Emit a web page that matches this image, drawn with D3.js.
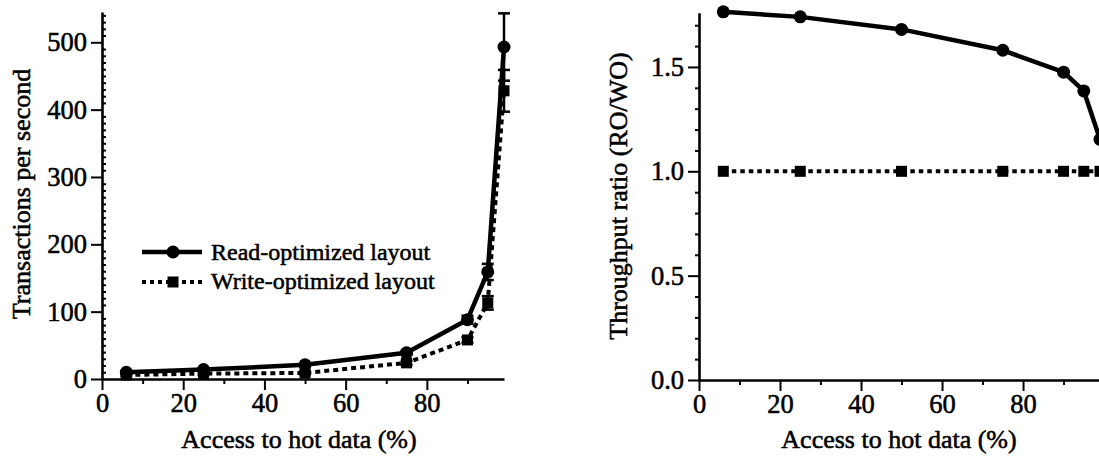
<!DOCTYPE html>
<html>
<head>
<meta charset="utf-8">
<script src="https://cdn.jsdelivr.net/npm/d3@7"></script>
<style>
  html, body { margin: 0; padding: 0; background: #fff; }
  svg { display: block; }
  text { font-family: "Liberation Serif", "Times New Roman", serif; fill: #000; stroke: #000; stroke-width: 0.55px; }
</style>
</head>
<body>
<svg id="chart" width="1099" height="458"></svg>
<script>
// ---- Data ----
const hotAccess = [6, 25, 50, 75, 90, 95, 99];
const readOptTps = [10, 14, 21, 39, 88, 159, 493];
const readOptErr = [2, 2, 2, 3, 6, 12, 50];
const writeOptTps = [6, 8, 9, 24, 58, 113, 428];
const writeOptErr = [2, 2, 2, 3, 4, 10, 31];
const ratioRO = [1.764, 1.74, 1.68, 1.58, 1.475, 1.385, 1.153];
const ratioWO = [1, 1, 1, 1, 1, 1, 1];

const xTicks = [0, 20, 40, 60, 80];
const xMinorTicks = [10, 30, 50, 70, 90];
const leftYTicks = [0, 100, 200, 300, 400, 500];
const rightYTicks = [0, 0.5, 1.0, 1.5];
const legendLabels = ["Read-optimized layout", "Write-optimized layout"];
const xTitle = "Access to hot data (%)";
const leftYTitle = "Transactions per second";
const rightYTitle = "Throughput ratio (RO/WO)";

const svg = d3.select("#chart");

function styleAxis(g, width) {
  g.attr("font-family", null);
  g.select(".domain").attr("stroke", "#000").attr("stroke-width", width);
  g.selectAll(".tick line").attr("stroke", "#000").attr("stroke-width", 2);
  g.selectAll(".tick text").attr("font-size", 26.5)
    .style("font-family", '"Liberation Serif", "Times New Roman", serif');
}

function drawPanel(opts) {
  const { x, y, yTicks, yMinor, yFmt, minorInside, ro, wo, roErr, woErr, woDash } = opts;
  const g = svg.append("g");

  // X axis
  const xAxis = g.append("g").attr("transform", `translate(0,${y(0)})`)
    .call(d3.axisBottom(x).tickValues(xTicks).tickSize(11).tickSizeOuter(0).tickPadding(3));
  styleAxis(xAxis, 2.6);
  xAxis.append("g").call(d3.axisBottom(x).tickValues(xMinorTicks).tickSize(5).tickFormat(""))
    .call(s => { s.select(".domain").remove(); s.selectAll("line").attr("stroke", "#000").attr("stroke-width", 2); });

  // Y axis
  const yAxis = g.append("g").attr("transform", `translate(${x(0)},0)`)
    .call(d3.axisLeft(y).tickValues(yTicks).tickSize(11).tickSizeOuter(0).tickPadding(4).tickFormat(yFmt));
  styleAxis(yAxis, 2.6);
  const minorAxis = minorInside ? d3.axisRight(y) : d3.axisLeft(y);
  yAxis.append("g").call(minorAxis.tickValues(yMinor).tickSize(4).tickFormat(""))
    .call(s => { s.select(".domain").remove(); s.selectAll("line").attr("stroke", "#000").attr("stroke-width", 2); });

  // Error bars
  function errBars(vals, errs) {
    const eg = g.append("g").attr("stroke", "#000").attr("stroke-width", 2.5);
    hotAccess.forEach((h, i) => {
      if (!errs || errs[i] <= 0) return;
      const cx = x(h), y1 = y(vals[i] - errs[i]), y2 = y(vals[i] + errs[i]);
      eg.append("line").attr("x1", cx).attr("x2", cx).attr("y1", y1).attr("y2", y2);
      eg.append("line").attr("x1", cx - 6).attr("x2", cx + 6).attr("y1", y1).attr("y2", y1);
      eg.append("line").attr("x1", cx - 6).attr("x2", cx + 6).attr("y1", y2).attr("y2", y2);
    });
  }
  errBars(wo, woErr);
  errBars(ro, roErr);

  const line = d3.line().x((d, i) => x(hotAccess[i])).y(d => y(d));
  g.append("path").datum(wo).attr("d", line).attr("fill", "none")
    .attr("stroke", "#000").attr("stroke-width", 4).attr("stroke-dasharray", woDash);
  g.append("path").datum(ro).attr("d", line).attr("fill", "none")
    .attr("stroke", "#000").attr("stroke-width", 4.5).attr("stroke-linejoin", "round");

  g.selectAll(".sq").data(wo).enter().append("rect")
    .attr("x", (d, i) => x(hotAccess[i]) - 5.5).attr("y", d => y(d) - 5.5)
    .attr("width", 11).attr("height", 11).attr("fill", "#000");
  g.selectAll(".ci").data(ro).enter().append("circle")
    .attr("cx", (d, i) => x(hotAccess[i])).attr("cy", d => y(d)).attr("r", 6.5).attr("fill", "#000");
  return g;
}

// ---- Left panel ----
const xL = d3.scaleLinear().domain([0, 99]).range([102, 504]);
const yL = d3.scaleLinear().domain([0, 545]).range([379, 12]);
const leftMinor = d3.range(0, 545, 10).filter(v => v % 100 !== 0);
drawPanel({ x: xL, y: yL, yTicks: leftYTicks, yMinor: leftMinor, yFmt: d3.format("d"),
  minorInside: true, ro: readOptTps, wo: writeOptTps, roErr: readOptErr, woErr: writeOptErr, woDash: "5,4" });

svg.append("text").attr("x", (xL(0) + xL(99)) / 2 - 4).attr("y", 448).attr("text-anchor", "middle")
  .attr("font-size", 26).text(xTitle);
svg.append("text").attr("transform", "translate(30,194) rotate(-90)").attr("text-anchor", "middle")
  .attr("font-size", 26).text(leftYTitle);

// Legend
const lg = svg.append("g");
lg.append("line").attr("x1", 142).attr("x2", 202).attr("y1", 252).attr("y2", 252)
  .attr("stroke", "#000").attr("stroke-width", 4.5);
lg.append("circle").attr("cx", 173).attr("cy", 252).attr("r", 6.5).attr("fill", "#000");
lg.append("line").attr("x1", 142).attr("x2", 202).attr("y1", 282).attr("y2", 282)
  .attr("stroke", "#000").attr("stroke-width", 4).attr("stroke-dasharray", "4,4");
lg.append("rect").attr("x", 167.5).attr("y", 276.5).attr("width", 11).attr("height", 11).attr("fill", "#000");
lg.append("text").attr("x", 211).attr("y", 260).attr("font-size", 24).text(legendLabels[0]);
lg.append("text").attr("x", 211).attr("y", 289).attr("font-size", 24).text(legendLabels[1]);

// ---- Right panel ----
const xR = d3.scaleLinear().domain([0, 99]).range([699, 1100]);
const yR = d3.scaleLinear().domain([0, 1.76]).range([380, 12.7]);
const rightMinor = d3.range(0.1, 1.76, 0.1).map(v => +v.toFixed(1)).filter(v => Math.round(v * 10) % 5 !== 0);
drawPanel({ x: xR, y: yR, yTicks: rightYTicks, yMinor: rightMinor, yFmt: d3.format(".1f"),
  minorInside: false, ro: ratioRO, wo: ratioWO, roErr: null, woErr: null, woDash: "4.5,4" });

svg.append("text").attr("x", 899).attr("y", 448).attr("text-anchor", "middle")
  .attr("font-size", 26).text(xTitle);
svg.append("text").attr("transform", "translate(627,196) rotate(-90)").attr("text-anchor", "middle")
  .attr("font-size", 26).text(rightYTitle);
</script>
</body>
</html>
